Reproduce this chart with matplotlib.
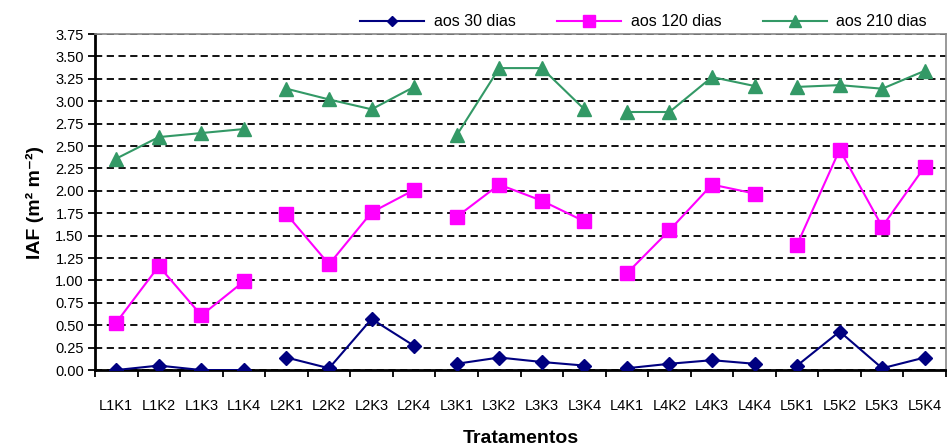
import numpy as np
import matplotlib.pyplot as plt

plt.rcParams['font.family'] = ['Liberation Sans', 'DejaVu Sans']

# Treatments and leaf area index values
tratamentos = ["L1K1", "L1K2", "L1K3", "L1K4", "L2K1", "L2K2", "L2K3", "L2K4",
               "L3K1", "L3K2", "L3K3", "L3K4", "L4K1", "L4K2", "L4K3", "L4K4",
               "L5K1", "L5K2", "L5K3", "L5K4"]
dias30 = [0.00, 0.05, 0.00, 0.00, 0.14, 0.02, 0.57, 0.27,
          0.07, 0.14, 0.09, 0.05, 0.02, 0.07, 0.11, 0.07,
          0.05, 0.43, 0.02, 0.14]
dias120 = [0.53, 1.16, 0.61, 0.99, 1.74, 1.18, 1.76, 2.01,
           1.71, 2.07, 1.89, 1.66, 1.08, 1.56, 2.07, 1.97,
           1.40, 2.46, 1.60, 2.27]
dias210 = [2.36, 2.60, 2.645, 2.69, 3.14, 3.02, 2.91, 3.16,
           2.62, 3.37, 3.37, 2.91, 2.88, 2.88, 3.27, 3.17,
           3.16, 3.18, 3.14, 3.34]

series = [
    ("aos 30 dias", dias30, "#000080", "D", 7),
    ("aos 120 dias", dias120, "#FF00FF", "s", 10),
    ("aos 210 dias", dias210, "#339966", "^", 10),
]

fig = plt.figure(figsize=(9.47, 4.48), dpi=100)
ax = fig.add_axes([0.1003, 0.174, 0.8987, 0.750])

x = np.arange(len(tratamentos))
for label, vals, color, marker, ms in series:
    vals = np.array(vals)
    # lines are broken between L groups (4 treatments each)
    for g in range(5):
        sl = slice(g * 4, g * 4 + 4)
        ax.plot(x[sl], vals[sl], color=color, marker=marker, markersize=ms,
                linewidth=1.5, label=label if g == 0 else None, zorder=3)

ax.set_xlim(-0.5, len(tratamentos) - 0.5)
ax.set_ylim(0, 3.75)
ax.set_yticks(np.arange(0, 3.76, 0.25))
ax.set_yticklabels([f"{v:.2f}" for v in np.arange(0, 3.76, 0.25)], fontsize=10.5)
ax.yaxis.grid(True, linestyle=(0, (4, 2.5)), color="black", linewidth=1.3)
ax.set_axisbelow(True)

ax.set_xticks(x)
ax.set_xticklabels(tratamentos, fontsize=10.5)
ax.set_xticks(np.arange(-0.5, len(tratamentos), 1), minor=True)
ax.tick_params(axis="x", which="major", length=0, pad=21)
ax.tick_params(axis="x", which="minor", length=5, width=1.3, direction="out")
ax.tick_params(axis="y", length=5, width=1.3, direction="out", pad=3)

ax.spines["left"].set_linewidth(2)
ax.spines["bottom"].set_linewidth(2)
ax.spines["top"].set_color("#888888")
ax.spines["right"].set_color("#888888")
ax.spines["top"].set_linewidth(1.2)
ax.spines["right"].set_linewidth(1.2)

ax.set_ylabel("IAF (m² m⁻²)", fontsize=14, fontweight="bold", labelpad=8)
ax.set_xlabel("Tratamentos", fontsize=14, fontweight="bold", labelpad=12)

ax.legend(loc="lower right", bbox_to_anchor=(0.985, 0.995), ncol=3, frameon=False,
          fontsize=11.5, handlelength=4, columnspacing=2.6, borderaxespad=0,
          markerscale=0.8, handletextpad=0.6)

plt.savefig("out.png", dpi=100)
plt.close()
